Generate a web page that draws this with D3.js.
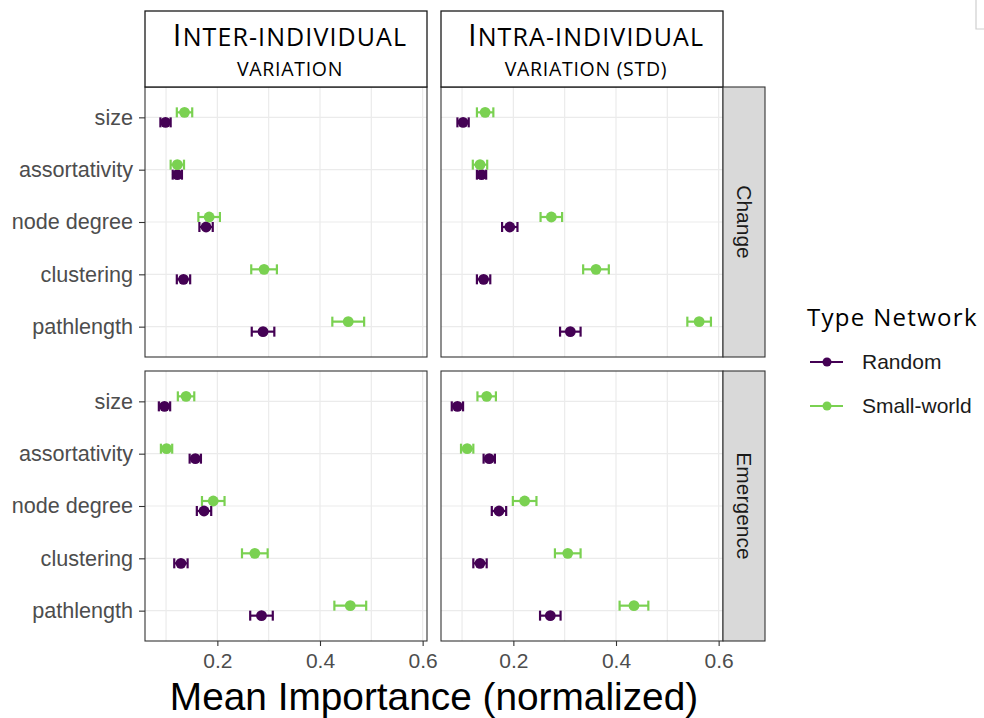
<!DOCTYPE html>
<html>
<head>
<meta charset="utf-8">
<script src="https://cdn.jsdelivr.net/npm/d3@7"></script>
<style>
  body { margin: 0; background: #fff; }
  svg { display: block; }
  .grid line { stroke: #ebebeb; stroke-width: 1.2; }
  .ylab { font-family: "Liberation Sans", Arial, sans-serif; font-size: 21.6px; fill: #4d4d4d; }
  .xlab { font-family: "Liberation Sans", Arial, sans-serif; font-size: 21px; fill: #4d4d4d; }
  .strip-text { font-family: "Open Sans", "Noto Sans", sans-serif; fill: #000; }
  .side-text { font-family: "Liberation Sans", Arial, sans-serif; font-size: 21px; fill: #1a1a1a; }
</style>
</head>
<body>
<div id="chart"></div>
<script>
// categories and facets
var categories = ["size", "assortativity", "node degree", "clustering", "pathlength"];
var networkTypes = ["Random", "Small-world"];
var variationInitial = ["I", "I"];
var variationWord = ["nter-individual", "ntra-individual"];
var variationRest = ["variation", "variation (std)"];
var outcomes = ["Change", "Emergence"];
var xTicks = [0.2, 0.4, 0.6];
var gridBreaks = [0.1, 0.2, 0.3, 0.4, 0.5, 0.6];

// mean importance (normalized) and half width of the error bar
var interChangeRandom = [0.099, 0.122, 0.178, 0.134, 0.289];
var interChangeRandomErr = [0.010, 0.009, 0.013, 0.013, 0.022];
var interChangeSmall = [0.136, 0.122, 0.184, 0.291, 0.455];
var interChangeSmallErr = [0.015, 0.013, 0.021, 0.025, 0.031];

var intraChangeRandom = [0.102, 0.138, 0.193, 0.142, 0.311];
var intraChangeRandomErr = [0.011, 0.009, 0.015, 0.013, 0.020];
var intraChangeSmall = [0.145, 0.135, 0.274, 0.361, 0.562];
var intraChangeSmallErr = [0.016, 0.014, 0.021, 0.025, 0.023];

var interEmergRandom = [0.097, 0.157, 0.174, 0.129, 0.286];
var interEmergRandomErr = [0.011, 0.011, 0.014, 0.013, 0.022];
var interEmergSmall = [0.139, 0.101, 0.192, 0.273, 0.459];
var interEmergSmallErr = [0.016, 0.011, 0.022, 0.025, 0.031];

var intraEmergRandom = [0.091, 0.153, 0.172, 0.135, 0.272];
var intraEmergRandomErr = [0.011, 0.011, 0.014, 0.013, 0.020];
var intraEmergSmall = [0.148, 0.110, 0.222, 0.306, 0.435];
var intraEmergSmallErr = [0.018, 0.012, 0.023, 0.025, 0.028];

var colors = ["#440154", "#7ad151"];

// panels: [row][col]
var panels = [
  [
    { random: interChangeRandom, randomErr: interChangeRandomErr, small: interChangeSmall, smallErr: interChangeSmallErr },
    { random: intraChangeRandom, randomErr: intraChangeRandomErr, small: intraChangeSmall, smallErr: intraChangeSmallErr }
  ],
  [
    { random: interEmergRandom, randomErr: interEmergRandomErr, small: interEmergSmall, smallErr: interEmergSmallErr },
    { random: intraEmergRandom, randomErr: intraEmergRandomErr, small: intraEmergSmall, smallErr: intraEmergSmallErr }
  ]
];

var width = 984, height = 718;
var panelW = 282, panelH = 270;
var panelX = [145, 441];
var panelY = [87, 371];
var stripTop = 11, stripH = 76;
var sideW = 42;

var svg = d3.select("#chart").append("svg")
  .attr("width", width)
  .attr("height", height);

var x = d3.scaleLinear().domain([0.059, 0.6085]).range([0, panelW]);
var y = d3.scalePoint().domain(categories).range([0, panelH]).padding(0.58);
var dodge = d3.scalePoint().domain(networkTypes).range([5, -5]);

function rowsFor(panel) {
  var rows = [];
  categories.forEach(function (c, i) {
    rows.push({ cat: c, type: "Random", v: panel.random[i], e: panel.randomErr[i] });
    rows.push({ cat: c, type: "Small-world", v: panel.small[i], e: panel.smallErr[i] });
  });
  return rows;
}

function drawPanel(r, c) {
  var g = svg.append("g").attr("transform", "translate(" + panelX[c] + "," + panelY[r] + ")");
  g.append("rect").attr("width", panelW).attr("height", panelH).attr("fill", "#fff");

  var grid = g.append("g").attr("class", "grid");
  grid.selectAll("line.v").data(gridBreaks).enter().append("line")
    .attr("x1", function (d) { return x(d); }).attr("x2", function (d) { return x(d); })
    .attr("y1", 0).attr("y2", panelH);
  grid.selectAll("line.h").data(categories).enter().append("line")
    .attr("x1", 0).attr("x2", panelW)
    .attr("y1", function (d) { return y(d); }).attr("y2", function (d) { return y(d); });

  var rows = rowsFor(panels[r][c]);
  var col = function (d) { return colors[networkTypes.indexOf(d.type)]; };
  var yy = function (d) { return y(d.cat) + dodge(d.type); };

  var bars = g.selectAll("g.bar").data(rows).enter().append("g").attr("class", "bar")
    .attr("stroke", col).attr("stroke-width", 2.2);
  bars.append("line")
    .attr("x1", function (d) { return x(d.v - d.e); }).attr("x2", function (d) { return x(d.v + d.e); })
    .attr("y1", yy).attr("y2", yy);
  bars.append("line")
    .attr("x1", function (d) { return x(d.v - d.e); }).attr("x2", function (d) { return x(d.v - d.e); })
    .attr("y1", function (d) { return yy(d) - 5; }).attr("y2", function (d) { return yy(d) + 5; });
  bars.append("line")
    .attr("x1", function (d) { return x(d.v + d.e); }).attr("x2", function (d) { return x(d.v + d.e); })
    .attr("y1", function (d) { return yy(d) - 5; }).attr("y2", function (d) { return yy(d) + 5; });
  g.selectAll("circle").data(rows).enter().append("circle")
    .attr("cx", function (d) { return x(d.v); })
    .attr("cy", yy)
    .attr("r", 5.4)
    .attr("fill", col);

  g.append("rect").attr("width", panelW).attr("height", panelH)
    .attr("fill", "none").attr("stroke", "#333").attr("stroke-width", 1.1);

  if (c === 0) {
    var ya = g.append("g").call(d3.axisLeft(y).tickSize(6).tickPadding(6));
    ya.select(".domain").remove();
    ya.selectAll(".tick line").attr("stroke", "#333").attr("stroke-width", 1.1);
    ya.selectAll(".tick text").attr("class", "ylab").attr("font-size", null).attr("font-family", null).attr("fill", null);
  }
  if (r === 1) {
    var xa = g.append("g").attr("transform", "translate(0," + panelH + ")")
      .call(d3.axisBottom(x).tickValues(xTicks).tickSize(5).tickPadding(7).tickFormat(d3.format(".1f")));
    xa.select(".domain").remove();
    xa.selectAll(".tick line").attr("stroke", "#333").attr("stroke-width", 1.1);
    xa.selectAll(".tick text").attr("class", "xlab").attr("font-size", null).attr("font-family", null).attr("fill", null);
  }
}

[0, 1].forEach(function (r) {
  [0, 1].forEach(function (c) { drawPanel(r, c); });
});

// top strips, small caps drawn with two sizes
[0, 1].forEach(function (c) {
  var g = svg.append("g").attr("transform", "translate(" + panelX[c] + "," + stripTop + ")");
  g.append("rect").attr("width", panelW).attr("height", stripH)
    .attr("fill", "#fff").attr("stroke", "#1a1a1a").attr("stroke-width", 1.3);
  var t1 = g.append("text").attr("class", "strip-text")
    .attr("x", panelW / 2 + 4).attr("y", 35).attr("text-anchor", "middle")
    .attr("letter-spacing", 1.1);
  t1.append("tspan").attr("font-size", 31).text(variationInitial[c]);
  t1.append("tspan").attr("font-size", 25).text(variationWord[c].toUpperCase());
  g.append("text").attr("class", "strip-text")
    .attr("x", panelW / 2 + 4).attr("y", 65).attr("text-anchor", "middle")
    .attr("font-size", 19.5).attr("letter-spacing", 0.7)
    .text(variationRest[c].toUpperCase());
});

// side strips
outcomes.forEach(function (o, r) {
  var g = svg.append("g").attr("transform", "translate(" + (panelX[1] + panelW) + "," + panelY[r] + ")");
  g.append("rect").attr("width", sideW).attr("height", panelH)
    .attr("fill", "#d9d9d9").attr("stroke", "#333").attr("stroke-width", 1.1);
  g.append("text").attr("class", "side-text")
    .attr("transform", "translate(" + (sideW / 2) + "," + (panelH / 2) + ") rotate(90)")
    .attr("text-anchor", "middle").attr("dy", "0.35em")
    .text(o);
});

// x axis title
svg.append("text")
  .attr("x", (panelX[0] + panelX[1] + panelW) / 2)
  .attr("y", 710)
  .attr("text-anchor", "middle")
  .attr("font-family", "Liberation Sans, Arial, sans-serif")
  .attr("font-size", 38.8)
  .attr("fill", "#000")
  .text("Mean Importance (normalized)");

// legend
var legend = svg.append("g").attr("transform", "translate(807,0)");
legend.append("text")
  .attr("x", 0).attr("y", 326)
  .attr("font-family", "Open Sans, Noto Sans, sans-serif")
  .attr("font-size", 24).attr("letter-spacing", 1.3)
  .attr("fill", "#000")
  .text("Type Network");
var items = legend.selectAll("g.item").data(networkTypes).enter().append("g")
  .attr("class", "item")
  .attr("transform", function (d, i) { return "translate(0," + (362 + i * 44) + ")"; });
items.append("line").attr("x1", 3).attr("x2", 36).attr("y1", 0).attr("y2", 0)
  .attr("stroke", function (d, i) { return colors[i]; }).attr("stroke-width", 2.2);
items.append("circle").attr("cx", 20).attr("cy", 0).attr("r", 4.5)
  .attr("fill", function (d, i) { return colors[i]; });
items.append("text").attr("x", 55).attr("y", 0).attr("dy", "0.35em")
  .attr("font-family", "Liberation Sans, Arial, sans-serif")
  .attr("font-size", 21).attr("fill", "#1a1a1a")
  .text(function (d) { return d; });

// window edge left in the screenshot
svg.append("path").attr("d", "M976,0V29H984")
  .attr("fill", "none").attr("stroke", "#cfcfcf").attr("stroke-width", 1.2);
</script>
</body>
</html>
